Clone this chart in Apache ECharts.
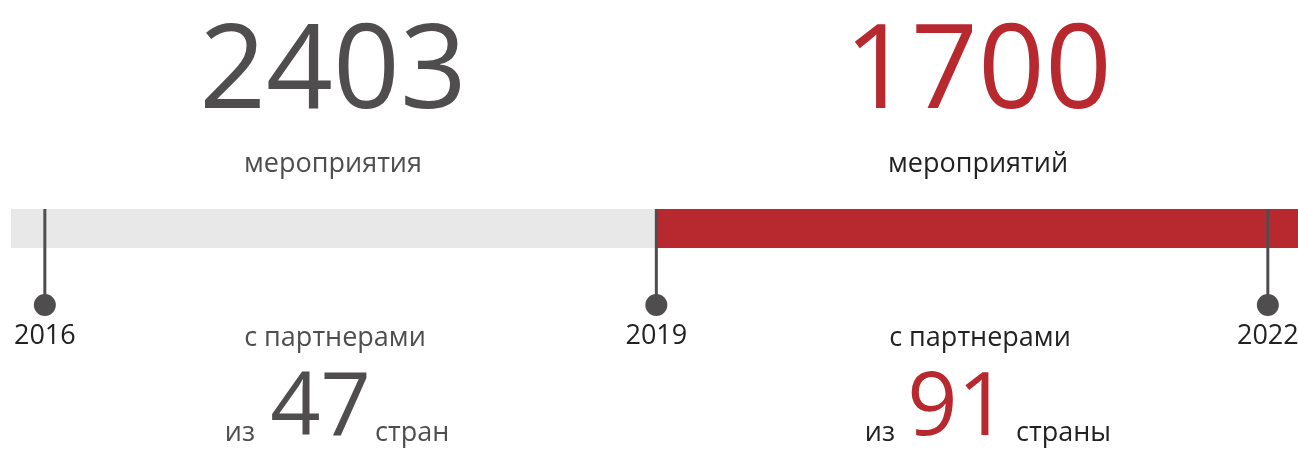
<!DOCTYPE html>
<html>
<head>
    <meta charset="utf-8">
    <title>Мероприятия</title>
    <script src="https://cdn.jsdelivr.net/npm/echarts@6/dist/echarts.min.js"></script>
    <style>
        html, body { margin: 0; padding: 0; background: #fff; }
    </style>
</head>
<body>
    <div id="main" style="width: 1298px;height:449px;"></div>
    <script type="text/javascript">
    var myChart = echarts.init(document.getElementById('main'));

    // Data
    var years = [2016, 2019, 2022];
    var timelineStart = 2015.834;
    var timelineEnd = 2022.148;
    // periods: [from, to]
    var periods = [[timelineStart, 2019], [2019, timelineEnd]];
    var events = [2403, 1700];
    var eventsLabel = ['мероприятия', 'мероприятий'];
    var countries = [47, 91];
    var countriesLabel = ['стран', 'страны'];

    var gray = '#4f4d4e';
    var dark = '#222222';
    var red = '#b8292f';
    var periodColors = ['#e8e8e8', red];
    var numColors = [gray, red];
    var textColors = [gray, dark];
    var font = '"Open Sans", "Noto Sans", sans-serif';
    var barBottom = 0.594;

    // text layout (pixels) for the two blocks
    var blockX = [333, 978];
    var izRight = [255, 895];
    var numX = [320.5, 957.5];
    var unitLeft = [375, 1016];

    var graphic = [];
    for (var i = 0; i < 2; i++) {
      graphic.push({
        type: 'text', x: blockX[i], y: 75,
        style: { text: String(events[i]), font: '117px ' + font, fill: numColors[i], align: 'center', verticalAlign: 'middle' }
      });
      graphic.push({
        type: 'text', x: blockX[i], y: 164,
        style: { text: eventsLabel[i], font: '27px ' + font, fill: textColors[i], align: 'center', verticalAlign: 'middle' }
      });
      graphic.push({
        type: 'text', x: blockX[i] + 2, y: 338,
        style: { text: 'с партнерами', font: '27px ' + font, fill: textColors[i], align: 'center', verticalAlign: 'middle' }
      });
      graphic.push({
        type: 'text', x: numX[i], y: 410,
        style: { text: String(countries[i]), font: '88px ' + font, fill: numColors[i], align: 'center', verticalAlign: 'middle' }
      });
      graphic.push({
        type: 'text', x: izRight[i], y: 433,
        style: { text: 'из', font: '27px ' + font, fill: textColors[i], align: 'right', verticalAlign: 'middle' }
      });
      graphic.push({
        type: 'text', x: unitLeft[i], y: 433,
        style: { text: countriesLabel[i], font: '27px ' + font, fill: textColors[i], align: 'left', verticalAlign: 'middle' }
      });
    }

    var option = {
      backgroundColor: '#fff',
      animation: false,
      grid: {
        left: 11,
        right: 0,
        top: 209,
        height: 96
      },
      xAxis: {
        type: 'value',
        min: timelineStart,
        max: timelineEnd,
        show: false
      },
      yAxis: {
        type: 'value',
        min: 0,
        max: 1,
        show: false
      },
      graphic: graphic,
      series: [{
        name: 'periods',
        type: 'custom',
        silent: true,
        data: periods.map(function (p, idx) { return [p[0], p[1], idx]; }),
        renderItem: function (params, api) {
          var a = api.coord([api.value(0), 1]);
          var b = api.coord([api.value(1), barBottom]);
          return {
            type: 'rect',
            shape: { x: a[0], y: a[1], width: b[0] - a[0], height: b[1] - a[1] },
            style: { fill: periodColors[api.value(2)] }
          };
        }
      }, {
        name: 'stems',
        type: 'custom',
        silent: true,
        data: years.map(function (y) { return [y]; }),
        renderItem: function (params, api) {
          var a = api.coord([api.value(0), 1]);
          var b = api.coord([api.value(0), 0]);
          return {
            type: 'line',
            shape: { x1: a[0], y1: a[1], x2: b[0], y2: b[1] },
            style: { stroke: gray, lineWidth: 3 }
          };
        }
      }, {
        name: 'years',
        type: 'scatter',
        symbol: 'circle',
        symbolSize: 22,
        silent: true,
        itemStyle: { color: gray, opacity: 1 },
        label: {
          show: true,
          position: 'bottom',
          distance: 7,
          formatter: function (p) { return String(p.value[0]); },
          color: dark,
          fontSize: 27,
          fontFamily: font
        },
        data: years.map(function (y) { return [y, 0]; })
      }]
    };

    myChart.setOption(option);
    </script>
</body>
</html>
